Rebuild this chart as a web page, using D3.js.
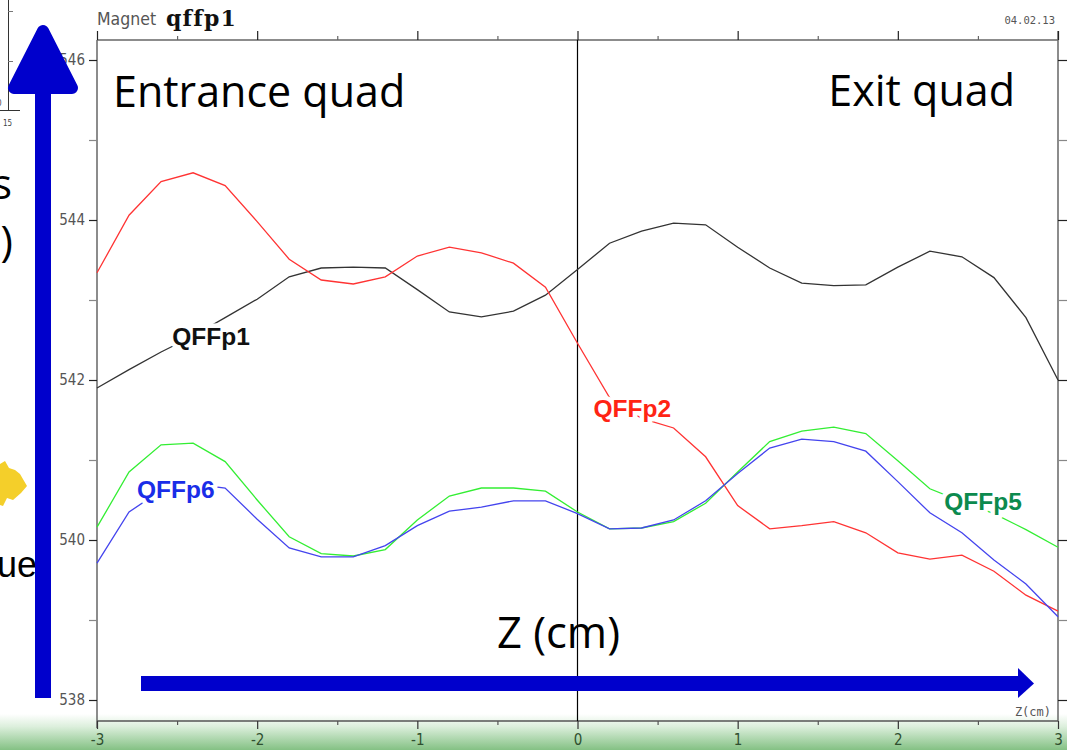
<!DOCTYPE html>
<html>
<head>
<meta charset="utf-8">
<script src="https://cdn.jsdelivr.net/npm/d3@7"></script>
<style>
  html, body { margin: 0; padding: 0; background: #fff; }
  svg { display: block; }
</style>
</head>
<body>
<svg id="chart" width="1067" height="750"></svg>
<script>
// ---- data ----
const zValues = [-3, -2.8, -2.6, -2.4, -2.2, -2.0, -1.8, -1.6, -1.4, -1.2, -1.0, -0.8, -0.6, -0.4, -0.2, 0,
                 0.2, 0.4, 0.6, 0.8, 1.0, 1.2, 1.4, 1.6, 1.8, 2.0, 2.2, 2.4, 2.6, 2.8, 3.0];
const qffp1 = [541.90, 542.13, 542.35, 542.55, 542.78, 543.01, 543.29, 543.40, 543.41, 543.40, 543.13,
               542.85, 542.79, 542.86, 543.06, 543.38, 543.71, 543.86, 543.96, 543.94, 543.66, 543.40,
               543.21, 543.18, 543.19, 543.41, 543.61, 543.54, 543.28, 542.78, 542.00];
const qffp2 = [543.34, 544.06, 544.48, 544.59, 544.43, 543.98, 543.51, 543.25, 543.20, 543.29, 543.55,
               543.66, 543.59, 543.46, 543.16, 542.46, 541.78, 541.52, 541.40, 541.04, 540.43, 540.14,
               540.18, 540.23, 540.09, 539.84, 539.76, 539.81, 539.61, 539.31, 539.11];
const qffp5 = [540.16, 540.85, 541.19, 541.21, 540.98, 540.50, 540.04, 539.83, 539.80, 539.88, 540.25,
               540.55, 540.65, 540.65, 540.61, 540.35, 540.14, 540.15, 540.23, 540.46, 540.85, 541.23,
               541.36, 541.41, 541.33, 540.99, 540.64, 540.48, 540.33, 540.13, 539.91];
const qffp6 = [539.71, 540.35, 540.62, 540.70, 540.65, 540.26, 539.90, 539.79, 539.79, 539.93, 540.18,
               540.36, 540.41, 540.49, 540.49, 540.33, 540.14, 540.15, 540.25, 540.49, 540.83, 541.15,
               541.26, 541.23, 541.11, 540.73, 540.34, 540.09, 539.75, 539.45, 539.04];
const seriesNames = ["QFFp1", "QFFp2", "QFFp5", "QFFp6"];
const yTickValues = [538, 539, 540, 541, 542, 543, 544, 545, 546];
const yTickLabels = ["538", "", "540", "", "542", "", "544", "", "546"];
const xTickValues = [-3, -2.5, -2, -1.5, -1, -0.5, 0, 0.5, 1, 1.5, 2, 2.5, 3];
const xTickLabels = ["-3", "", "-2", "", "-1", "", "0", "", "1", "", "2", "", "3"];
// label anchor positions (z, value) for each series name
const labelPos = [[-2.53, 542.44], [0.1, 541.54], [2.29, 540.38], [-2.75, 540.52]];

// ---- layout ----
const svg = d3.select("#chart");
const W = 1067, H = 750;
const x = d3.scaleLinear().domain([-3, 3]).range([97, 1058]);
const y = d3.scaleLinear().domain([538, 546]).range([700, 60]);
const yTop = 40, yBot = 721;

const defs = svg.append("defs");
const grad = defs.append("linearGradient").attr("id", "bottomGrad")
  .attr("x1", 0).attr("y1", 0).attr("x2", 0).attr("y2", 1);
grad.append("stop").attr("offset", "0%").attr("stop-color", "#ffffff");
grad.append("stop").attr("offset", "35%").attr("stop-color", "#dcefdc");
grad.append("stop").attr("offset", "100%").attr("stop-color", "#84c184");

svg.append("rect").attr("width", W).attr("height", H).attr("fill", "#fff");
svg.append("rect").attr("x", 0).attr("y", 714).attr("width", W).attr("height", 36)
  .attr("fill", "url(#bottomGrad)");

// inset fragment at top-left
const inset = svg.append("g").attr("stroke", "#333").attr("stroke-width", 1).attr("fill", "none");
inset.append("line").attr("x1", 8.5).attr("x2", 8.5).attr("y1", 0).attr("y2", 111);
inset.append("line").attr("x1", 0).attr("x2", 20).attr("y1", 110.5).attr("y2", 110.5);
inset.append("line").attr("x1", 8).attr("x2", 13).attr("y1", 11.5).attr("y2", 11.5).attr("stroke", "#777");
inset.append("line").attr("x1", 8).attr("x2", 13).attr("y1", 61.5).attr("y2", 61.5).attr("stroke", "#777");
svg.append("text").attr("x", 3).attr("y", 126).attr("font-family", "DejaVu Sans Condensed, DejaVu Sans")
  .attr("font-size", 8).attr("fill", "#444").text("15");
svg.append("text").attr("x", -3).attr("y", 106).attr("font-family", "DejaVu Sans Condensed, DejaVu Sans")
  .attr("font-size", 8).attr("fill", "#444").text("0");

// frame
const frame = svg.append("g");
frame.append("line").attr("x1", 97).attr("x2", 1058).attr("y1", yTop).attr("y2", yTop)
  .attr("stroke", "#666").attr("stroke-width", 1.5);
frame.append("line").attr("x1", 1058).attr("x2", 1058).attr("y1", 31).attr("y2", yBot)
  .attr("stroke", "#666").attr("stroke-width", 1.5);
frame.append("line").attr("x1", 97).attr("x2", 97).attr("y1", 40).attr("y2", 728)
  .attr("stroke", "#666").attr("stroke-width", 1.5);
frame.append("line").attr("x1", 97).attr("x2", 1058).attr("y1", yBot).attr("y2", yBot)
  .attr("stroke", "#555").attr("stroke-width", 1.5);

// axes
const tickFont = "DejaVu Sans Condensed, DejaVu Sans";
const leftAxis = d3.axisLeft(y).tickValues(yTickValues).tickSize(8).tickPadding(4)
  .tickFormat((d, i) => yTickLabels[i]);
const gl = svg.append("g").attr("transform", "translate(97,0)").call(leftAxis);
gl.select(".domain").remove();
gl.selectAll(".tick line").attr("stroke", (d, i) => yTickLabels[i] ? "#222" : "#888").attr("stroke-width", 1.2);
gl.selectAll(".tick text").attr("font-family", tickFont).attr("font-size", 15).attr("fill", "#555");

const rightAxis = d3.axisRight(y).tickValues(yTickValues).tickSize(9).tickFormat("");
const gr = svg.append("g").attr("transform", "translate(1058,0)").call(rightAxis);
gr.select(".domain").remove();
gr.selectAll(".tick line").attr("stroke", (d, i) => yTickLabels[i] ? "#222" : "#888").attr("stroke-width", 1.2);

const topAxis = d3.axisTop(x).tickValues(xTickValues).tickSize(0).tickFormat("");
const gt = svg.append("g").attr("transform", `translate(0,${yTop})`).call(topAxis);
gt.select(".domain").remove();
gt.selectAll(".tick line").attr("y2", (d, i) => xTickLabels[i] ? -9 : -4)
  .attr("stroke", (d, i) => xTickLabels[i] ? "#222" : "#666").attr("stroke-width", 1.2);

const bottomAxis = d3.axisBottom(x).tickValues(xTickValues).tickSize(0).tickPadding(13)
  .tickFormat((d, i) => xTickLabels[i]);
const gb = svg.append("g").attr("transform", `translate(0,${yBot})`).call(bottomAxis);
gb.select(".domain").remove();
gb.selectAll(".tick line").attr("y2", (d, i) => xTickLabels[i] ? 8 : 4)
  .attr("stroke", (d, i) => xTickLabels[i] ? "#333" : "#555").attr("stroke-width", 1.2);
gb.selectAll(".tick text").attr("font-family", tickFont).attr("font-size", 15).attr("fill", "#2f4f2f");

// header texts
svg.append("text").attr("x", 97).attr("y", 25).attr("font-family", tickFont)
  .attr("font-size", 17.5).attr("fill", "#555").text("Magnet");
svg.append("text").attr("x", 166).attr("y", 26).attr("font-family", "DejaVu Serif")
  .attr("font-weight", "bold").attr("font-size", 22).attr("letter-spacing", 1.2)
  .attr("fill", "#111").text("qffp1");
svg.append("text").attr("x", 1055).attr("y", 24).attr("text-anchor", "end")
  .attr("font-family", "DejaVu Sans Mono").attr("font-size", 10.5).attr("fill", "#555").text("04.02.13");
svg.append("text").attr("x", 1051).attr("y", 716).attr("text-anchor", "end")
  .attr("font-family", "DejaVu Sans Mono").attr("font-size", 12).attr("fill", "#555").text("Z(cm)");

// zero line
svg.append("line").attr("x1", x(0)).attr("x2", x(0)).attr("y1", yTop).attr("y2", yBot)
  .attr("stroke", "#000").attr("stroke-width", 1.2);

// series
const allSeries = [qffp1, qffp2, qffp5, qffp6];
const lineColors = ["#333333", "#ff3333", "#33ee33", "#4444ee"];
const labelColors = ["#111111", "#ff2414", "#0c8a4e", "#1a2de8"];
const line = d3.line().x((d, i) => x(zValues[i])).y(d => y(d));
svg.append("g").selectAll("path").data(allSeries).join("path")
  .attr("d", d => line(d)).attr("fill", "none")
  .attr("stroke", (d, i) => lineColors[i]).attr("stroke-width", 1.3);

svg.append("g").selectAll("text").data(seriesNames).join("text")
  .attr("x", (d, i) => x(labelPos[i][0])).attr("y", (d, i) => y(labelPos[i][1]))
  .attr("font-family", "Liberation Sans, Arial").attr("font-weight", "bold").attr("font-size", 24.5)
  .attr("fill", (d, i) => labelColors[i])
  .attr("stroke", "#fff").attr("stroke-width", 9).attr("stroke-linejoin", "round")
  .attr("paint-order", "stroke")
  .text(d => d);

// big overlay texts
const bigFont = "Open Sans, Lato, sans-serif";
svg.append("text").attr("x", 113).attr("y", 107).attr("font-family", bigFont).attr("font-size", 43)
  .attr("fill", "#000").text("Entrance quad");
svg.append("text").attr("x", 1015).attr("y", 106).attr("text-anchor", "end").attr("font-family", bigFont)
  .attr("font-size", 43).attr("fill", "#000").text("Exit quad");
svg.append("text").attr("x", 497).attr("y", 648).attr("font-family", bigFont).attr("font-size", 43.5)
  .attr("fill", "#000").text("Z (cm)");
svg.append("text").attr("x", 12).attr("y", 199).attr("text-anchor", "end").attr("font-family", bigFont)
  .attr("font-size", 42).attr("fill", "#000").text("s");
svg.append("text").attr("x", 13).attr("y", 256).attr("text-anchor", "end").attr("font-family", bigFont)
  .attr("font-size", 42).attr("fill", "#000").text(")");
svg.append("text").attr("x", 37).attr("y", 577).attr("text-anchor", "end").attr("font-family", "Liberation Sans, Arial")
  .attr("font-size", 36).attr("fill", "#000").text("ue");

// yellow blob fragment
svg.append("path").attr("d", "M0,464 L5,461 L9,468 L15,470 L20,474 L27,486 L21,493 L13,500 L7,498 L3,506 L0,505 Z")
  .attr("fill", "#f4cf2a");

// blue arrows
const arrowBlue = "#0000cc";
svg.append("rect").attr("x", 35).attr("y", 80).attr("width", 16).attr("height", 618).attr("fill", arrowBlue);
svg.append("path").attr("d", "M14,88 L72,88 L43,31 Z").attr("fill", arrowBlue)
  .attr("stroke", arrowBlue).attr("stroke-width", 12).attr("stroke-linejoin", "round");
svg.append("rect").attr("x", 141).attr("y", 676).attr("width", 882).attr("height", 15).attr("fill", arrowBlue);
svg.append("path").attr("d", "M1018,668 L1034,683.5 L1018,698 Z").attr("fill", arrowBlue);
</script>
</body>
</html>
